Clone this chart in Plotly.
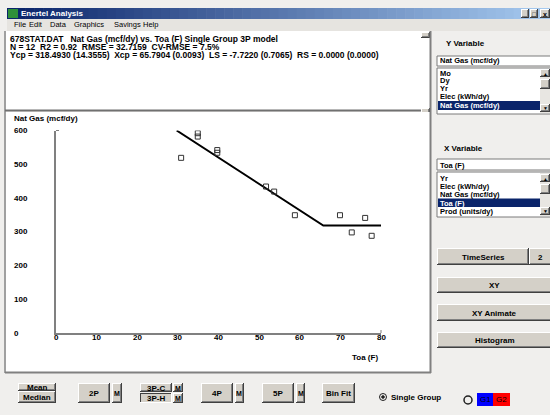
import plotly.graph_objects as go

# ---------------- data ----------------
toa_obs = [30.8, 34.9, 34.9, 39.7, 39.7, 51.7, 53.7, 58.8, 69.9, 72.8, 76.1, 77.7]
gas_obs = [519, 592, 582, 542, 534, 434, 419, 349, 349, 298, 341, 288]
fit_toa = [29.7, 65.8, 80]
fit_gas = [600, 318.5, 318.5]
x_ticks = [0, 10, 20, 30, 40, 50, 60, 70, 80]
y_ticks = [0, 100, 200, 300, 400, 500, 600]

header_lines = [
    "678STAT.DAT\u00a0\u00a0\u00a0Nat Gas (mcf/dy) vs. Toa (F) Single Group 3P model",
    "N = 12\u00a0\u00a0R2 = 0.92\u00a0\u00a0RMSE = 32.7159\u00a0\u00a0CV-RMSE = 7.5%",
    "Ycp = 318.4930 (14.3555)\u00a0\u00a0Xcp = 65.7904 (0.0093)\u00a0\u00a0LS = -7.7220 (0.7065)\u00a0\u00a0RS = 0.0000 (0.0000)",
]
menu_items = ["File", "Edit", "Data", "Graphics", "Savings", "Help"]
y_var_items = ["Mo", "Dy", "Yr", "Elec (kWh/dy)", "Nat Gas (mcf/dy)"]
x_var_items = ["Yr", "Elec (kWh/dy)", "Nat Gas (mcf/dy)", "Toa (F)", "Prod (units/dy)"]

# ---------------- layout helpers (pixel -> paper) ----------------
W, H = 550, 415
FONT = "Liberation Sans, Arial, sans-serif"
BG = "#f0efed"
FACE = "#d4d0c8"
shapes = []
annots = []


def rect(x0, y0, x1, y1, fill, line=None, lw=1):
    shapes.append(dict(type="rect", xref="paper", yref="paper",
                       x0=x0 / W, x1=x1 / W, y0=1 - y1 / H, y1=1 - y0 / H,
                       fillcolor=fill, layer="below",
                       line=dict(color=line if line else fill, width=lw if line else 0)))


def hline(x0, x1, y, color, lw=1):
    shapes.append(dict(type="line", xref="paper", yref="paper",
                       x0=x0 / W, x1=x1 / W, y0=1 - y / H, y1=1 - y / H,
                       line=dict(color=color, width=lw), layer="below"))


def vline(x, y0, y1, color, lw=1):
    shapes.append(dict(type="line", xref="paper", yref="paper",
                       x0=x / W, x1=x / W, y0=1 - y0 / H, y1=1 - y1 / H,
                       line=dict(color=color, width=lw), layer="below"))


def circle(cx, cy, r, color, lw=1, fill="rgba(0,0,0,0)"):
    shapes.append(dict(type="circle", xref="paper", yref="paper",
                       x0=(cx - r) / W, x1=(cx + r) / W, y0=1 - (cy + r) / H, y1=1 - (cy - r) / H,
                       line=dict(color=color, width=lw), fillcolor=fill, layer="below"))


def text(x, y, s, size=8, color="black", bold=True, anchor="left"):
    annots.append(dict(x=x / W, y=1 - y / H, xref="paper", yref="paper",
                       text=("<b>%s</b>" % s) if bold else s, showarrow=False,
                       xanchor=anchor, yanchor="middle", borderpad=0,
                       font=dict(family=FONT, size=size, color=color)))


def button(x0, y0, x1, y1, label, pressed=False, size=8):
    rect(x0, y0, x1, y1, FACE)
    if pressed:
        hline(x0, x1, y0 + 0.5, "#404040")
        vline(x0 + 0.5, y0, y1, "#404040")
        hline(x0, x1, y1 - 0.5, "#ffffff")
        vline(x1 - 0.5, y0, y1, "#ffffff")
    else:
        hline(x0, x1, y0 + 0.5, "#ffffff")
        vline(x0 + 0.5, y0, y1, "#ffffff")
        hline(x0, x1, y1 - 0.5, "#404040")
        vline(x1 - 0.5, y0, y1, "#404040")
        hline(x0 + 1, x1 - 1, y1 - 1.5, "#808080")
        vline(x1 - 1.5, y0 + 1, y1 - 1, "#808080")
    if label:
        text((x0 + x1) / 2, (y0 + y1) / 2 + 0.5, label, size=size, anchor="center")


# ---------------- window chrome ----------------
# title bar gradient
n = 60
x_start, x_end = 7, 550
c0, c1 = (10, 36, 106), (166, 202, 240)
for i in range(n):
    t = i / (n - 1)
    col = "rgb(%d,%d,%d)" % tuple(int(a + (b - a) * t) for a, b in zip(c0, c1))
    xa = x_start + (x_end - x_start) * i / n
    xb = x_start + (x_end - x_start) * (i + 1) / n + 0.6
    rect(xa, 8, xb, 19, col)
rect(8, 9, 18, 18, "#2f8f3a")
text(20, 13.5, "Enertel Analysis", size=8, color="white")
for (a, b, sym) in [(521, 529, "_"), (530, 538, "□"), (540, 550, "x")]:
    button(a, 9, b, 18, sym, size=7)

# menu bar
rect(7, 19, 550, 31, "#e6e4e0")
for item, mx in zip(menu_items, [13, 28, 49, 73, 113, 142]):
    text(mx, 25, item, size=7.5, bold=False)

# text panel
rect(5, 31, 430, 110, "white")
vline(5, 31, 373, "#a0a0a0", 2)
for i, line in enumerate(header_lines):
    text(9, 39 + 8 * i, line, size=8.5)
button(421, 32, 430, 38, "")
# splitter
hline(5, 430, 110.5, "#707070", 2)
button(421, 108, 430, 114, "")

# plot panel
rect(6, 112, 430, 372, "white")
hline(5, 431, 372.5, "#808080", 2)
vline(430.5, 31, 373, "#808080", 2)
text(13, 119, "Nat Gas (mcf/dy)", size=8)
text(351, 357, "Toa (F)", size=8)

# right panel : Y variable
text(445, 44, "Y Variable", size=8)
rect(437, 56, 552, 66, "white", "#7a7a7a", 1)
text(439, 61, "Nat Gas (mcf/dy)", size=7.5)
rect(437, 68, 552, 114, "white", "#7a7a7a", 1)
rect(438, 101, 540, 110, "#0a246a")
for i, item in enumerate(y_var_items):
    yy = [73, 80.5, 88, 96, 105.5][i]
    text(439, yy, item, size=7.5, color="white" if i == 4 else "black")
rect(540, 69, 550, 113, "#e8e6e2")
button(540, 69, 550, 77, "▲", size=5)
button(540, 79, 550, 89, "")
button(540, 104, 550, 112, "▼", size=5)

# right panel : X variable
text(443, 148, "X Variable", size=8)
rect(437, 159, 552, 170, "white", "#7a7a7a", 1)
text(439, 165, "Toa (F)", size=7.5)
rect(437, 172, 552, 217, "white", "#7a7a7a", 1)
rect(438, 198.5, 540, 207, "#0a246a")
for i, item in enumerate(x_var_items):
    yy = [178, 186, 194, 203, 211][i]
    text(439, yy, item, size=7.5, color="white" if i == 3 else "black")
rect(540, 173, 550, 216, "#e8e6e2")
button(540, 174, 550, 182, "▲", size=5)
button(540, 184, 550, 194, "")
button(540, 207, 550, 215, "▼", size=5)

# right panel buttons
button(437, 248, 529, 265, "TimeSeries")
button(529, 248, 552, 265, "2")
button(437, 277, 552, 293, "XY")
button(437, 304, 552, 321, "XY Animate")
button(437, 332, 552, 348, "Histogram")

# bottom buttons
button(18, 383, 56, 391, "Mean")
button(18, 391, 56, 403, "Median")
button(78, 383, 110, 403, "2P")
button(112, 383, 122, 403, "M", size=7)
button(140, 383, 172, 392, "3P-C")
button(140, 393, 172, 403, "3P-H", pressed=True)
button(173, 383, 183, 392, "M", size=7)
button(173, 393, 183, 403, "M", size=7)
button(201, 383, 233, 403, "4P")
button(235, 383, 244, 403, "M", size=7)
button(262, 383, 294, 403, "5P")
button(296, 383, 305, 403, "M", size=7)
button(322, 383, 355, 403, "Bin Fit")

# group radios
circle(383, 397, 3.5, "#202020", 1)
circle(383, 397, 1.3, "#202020", 1, fill="#202020")
text(390, 397, "Single Group", size=8)
circle(468, 400, 4, "#202020", 1.5)
rect(477, 393, 493, 406, "#0000ff")
rect(493, 393, 510, 406, "#ff0000")
text(485, 399.5, "G1", size=8, color="black", bold=False, anchor="center")
text(501.5, 399.5, "G2", size=8, color="black", bold=False, anchor="center")

# axis end marks
hline(56, 59, 130.5, "#808080", 1)
vline(381, 330, 333, "#808080", 1)

# ---------------- chart ----------------
x0px, x1px = 56, 381
y0px, y1px = 333, 130.5

fig = go.Figure()
fig.add_trace(go.Scatter(x=fit_toa, y=fit_gas, mode="lines",
                         line=dict(color="black", width=2), showlegend=False, hoverinfo="skip"))
fig.add_trace(go.Scatter(x=toa_obs, y=gas_obs, mode="markers",
                         marker=dict(symbol="square-open", size=5, color="#333333",
                                     line=dict(width=1)),
                         showlegend=False))

# tick labels
for v in x_ticks:
    annots.append(dict(x=v, y=1 - 337.5 / H, xref="x", yref="paper", text="<b>%d</b>" % v,
                       showarrow=False, xanchor="center", yanchor="middle",
                       font=dict(family=FONT, size=8, color="black")))
for v in y_ticks:
    annots.append(dict(x=12 / W, y=v, xref="paper", yref="y", text="<b>%d</b>" % v,
                       showarrow=False, xanchor="left", yanchor="middle",
                       font=dict(family=FONT, size=8, color="black")))

fig.update_layout(
    width=W, height=H, margin=dict(l=0, r=0, t=0, b=0),
    paper_bgcolor=BG, plot_bgcolor="white",
    shapes=shapes, annotations=annots, showlegend=False,
    xaxis=dict(range=[0, 80], domain=[x0px / W, x1px / W], showline=True, linecolor="#808080",
               linewidth=1.5, showgrid=False, zeroline=False, showticklabels=False, ticks="",
               fixedrange=True),
    yaxis=dict(range=[0, 600], domain=[1 - y0px / H, 1 - y1px / H], showline=True,
               linecolor="#808080", linewidth=1.5, showgrid=False, zeroline=False,
               showticklabels=False, ticks="", fixedrange=True),
)

fig.write_html("out.html", config={"displayModeBar": False},
               post_script="document.body.style.margin='0px';document.body.style.overflow='hidden';")
